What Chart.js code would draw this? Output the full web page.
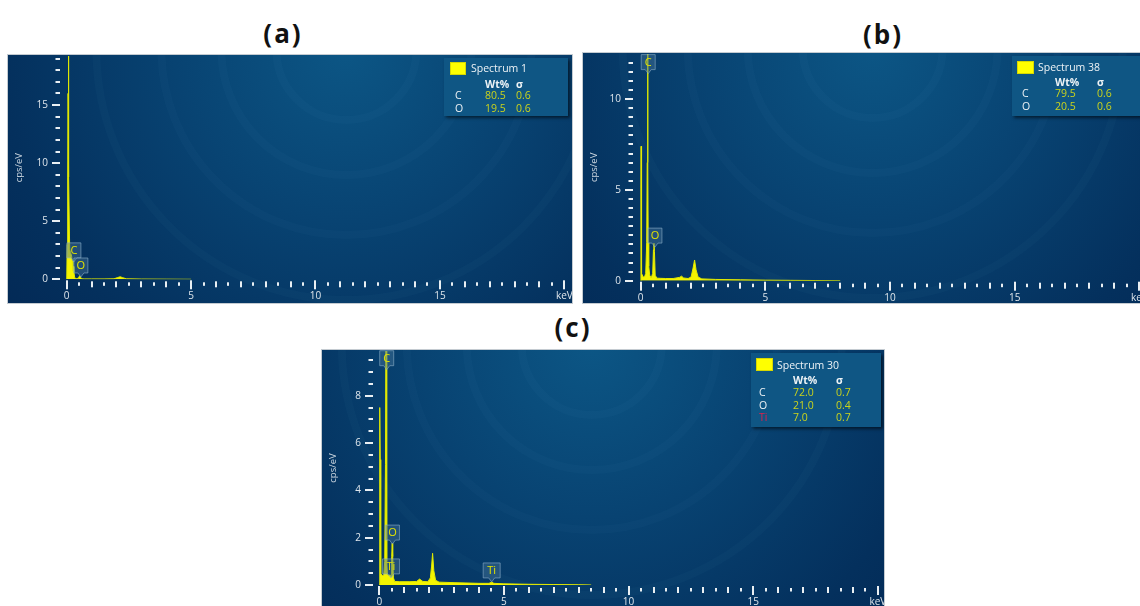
<!DOCTYPE html>
<html>
<head>
<meta charset="utf-8">
<script src="https://cdn.jsdelivr.net/npm/chart.js@4.4.1/dist/chart.umd.min.js"></script>
<style>
body { margin: 0; background: #fff; width: 1140px; height: 606px; overflow: hidden; position: relative; font-family: "Open Sans", sans-serif; }
.panel { position: absolute; overflow: hidden; box-shadow: 0 0 0 1px #c4cbd1; }
.panel canvas { display: block; }
.title { position: absolute; font-family: "Open Sans", sans-serif; font-weight: 700; font-size: 26px; color: #111; letter-spacing: 2px; transform: translate(-50%, -50%); white-space: nowrap; }
.legend { position: absolute; background: #0f5684; box-shadow: 2px 2px 3px rgba(0,0,0,0.55); color: #eef3f6; font-size: 10.5px; }
.legend span { position: absolute; line-height: 12px; white-space: nowrap; transform: translateY(-50%); }
.legend .sw { position: absolute; background: #ffff00; box-shadow: 0 0 0 1px #d8d800; }
.legend .hd { font-weight: 700; }
.legend .val { color: #cbd41c; }
.legend .ti { color: #e0204a; }
</style>
</head>
<body>

<div class="title" style="left:283px;top:33px">(a)</div>
<div class="title" style="left:883px;top:34px">(b)</div>
<div class="title" style="left:573px;top:327px">(c)</div>

<div class="panel" id="pa" style="left:8px;top:55px;width:564px;height:248px"><canvas id="chartA" width="564" height="248"></canvas></div>
<div class="panel" id="pb" style="left:583px;top:53px;width:557px;height:250px"><canvas id="chartB" width="557" height="250"></canvas></div>
<div class="panel" id="pc" style="left:322px;top:350px;width:562px;height:256px"><canvas id="chartC" width="562" height="256"></canvas></div>

<script>
// Spectrum (a)
const energyA = [0, 0.02, 0.04, 0.055, 0.065, 0.075, 0.09, 0.12, 0.15, 0.19, 0.22, 0.25, 0.27, 0.29, 0.32, 0.38, 0.47, 0.52, 0.55, 0.6, 0.7, 1.0, 1.5, 1.9, 2.05, 2.15, 2.25, 2.4, 3.0, 4.0, 5.0];
const countsA = [0, 3.0, 8.8, 16, 22, 16, 8.8, 2.6, 2.3, 2.1, 1.6, 0.7, 1.1, 0.6, 0.15, 0.05, 0.1, 0.3, 0.2, 0.04, 0.03, 0.03, 0.03, 0.04, 0.15, 0.22, 0.14, 0.04, 0.02, 0.01, 0];
const peakNamesA = ['C', 'O'];
const peakKeVA = [0.29, 0.57];
const peakCpsA = [1.5, 0.2];
const legendTitleA = 'Spectrum 1';
const elementsA = ['C', 'O'];
const wtA = ['80.5', '19.5'];
const sigmaA = ['0.6', '0.6'];

// Spectrum (b)
const energyB = [0, 0.005, 0.01, 0.015, 0.02, 0.03, 0.05, 0.1, 0.15, 0.2, 0.24, 0.26, 0.275, 0.29, 0.3, 0.32, 0.36, 0.42, 0.48, 0.51, 0.53, 0.55, 0.58, 0.65, 0.8, 1.0, 1.3, 1.55, 1.64, 1.72, 1.9, 2.02, 2.1, 2.16, 2.22, 2.3, 2.45, 3.0, 4.0, 5.0, 6.0, 7.0, 8.0];
const countsB = [0, 1.8, 5.1, 7.4, 5.1, 1.8, 0.4, 0.2, 0.2, 0.4, 2.1, 6.5, 14, 6.5, 2.1, 0.8, 0.3, 0.15, 0.4, 1.7, 2.06, 1.6, 0.3, 0.14, 0.13, 0.12, 0.12, 0.18, 0.25, 0.15, 0.12, 0.2, 0.7, 1.14, 0.6, 0.2, 0.1, 0.07, 0.05, 0.03, 0.02, 0.01, 0];
const peakNamesB = ['C', 'O'];
const peakKeVB = [0.3, 0.57];
const peakCpsB = [11.4, 1.85];
const legendTitleB = 'Spectrum 38';
const elementsB = ['C', 'O'];
const wtB = ['79.5', '20.5'];
const sigmaB = ['0.6', '0.6'];

// Spectrum (c)
const energyC = [0, 0.01, 0.02, 0.03, 0.04, 0.05, 0.07, 0.12, 0.18, 0.22, 0.25, 0.275, 0.29, 0.31, 0.33, 0.36, 0.4, 0.45, 0.48, 0.5, 0.52, 0.54, 0.57, 0.62, 0.8, 1.2, 1.5, 1.62, 1.68, 1.75, 1.95, 2.05, 2.1, 2.14, 2.19, 2.26, 2.4, 3.0, 4.0, 4.4, 4.51, 4.6, 5.0, 6.0, 7.0, 8.0, 8.5];
const countsC = [0, 1.8, 5.3, 7.5, 5.3, 1.8, 0.5, 0.4, 0.4, 1.0, 5.1, 12, 5.1, 1.0, 0.45, 0.4, 0.42, 0.42, 0.35, 1.2, 1.76, 1.2, 0.3, 0.15, 0.14, 0.14, 0.15, 0.25, 0.2, 0.15, 0.14, 0.3, 0.8, 1.34, 0.6, 0.2, 0.12, 0.1, 0.07, 0.07, 0.12, 0.07, 0.05, 0.03, 0.02, 0.01, 0];
const peakNamesC = ['C', 'O', 'Ti', 'Ti'];
const peakKeVC = [0.3, 0.53, 0.47, 4.51];
const peakCpsC = [9.1, 1.73, 0.3, 0.13];
const legendTitleC = 'Spectrum 30';
const elementsC = ['C', 'O', 'Ti'];
const wtC = ['72.0', '21.0', '7.0'];
const sigmaC = ['0.7', '0.4', '0.7'];

const TEXT = '#dfe6ec';
const FONT = 'Open Sans';

function isMultiple(v, step) {
    return Math.abs(v / step - Math.round(v / step)) < 1e-6;
}

function backgroundPlugin(cxFrac, rings) {
    return {
        id: 'edsBackground',
        beforeDraw(chart) {
            const { ctx, width, height } = chart;
            const cx = width * cxFrac, cy = -5;
            const g = ctx.createRadialGradient(cx, cy, 0, cx, cy, Math.hypot(width * 0.75, height));
            g.addColorStop(0, '#0c5685');
            g.addColorStop(0.35, '#084372');
            g.addColorStop(0.7, '#04305d');
            g.addColorStop(1, '#022551');
            ctx.save();
            ctx.fillStyle = g;
            ctx.fillRect(0, 0, width, height);
            // faint concentric rings of the detector backdrop
            ctx.lineWidth = 8;
            ctx.strokeStyle = 'rgba(120,180,220,0.03)';
            rings.forEach(r => {
                ctx.beginPath();
                ctx.arc(cx, cy, r, 0, Math.PI * 2);
                ctx.stroke();
            });
            ctx.restore();
        }
    };
}

function tickPlugin(majorY) {
    return {
        id: 'tickMarks',
        afterDraw(chart) {
            const { ctx, chartArea, scales: { x, y } } = chart;
            ctx.save();
            ctx.fillStyle = '#e9eff3';
            y.ticks.forEach(t => {
                const py = Math.round(y.getPixelForValue(t.value));
                const len = isMultiple(t.value, majorY) ? 8 : 4.5;
                ctx.fillRect(chartArea.left - 1 - len, py - 1, len, 2);
            });
            x.ticks.forEach(t => {
                if (t.value < 0) return;
                const px = Math.round(x.getPixelForValue(t.value));
                let off = 3, len = 3.5;
                if (isMultiple(t.value, 5)) { off = 1; len = 9; }
                else if (isMultiple(t.value, 1)) { off = 2; len = 6; }
                ctx.fillRect(px - 1, chartArea.bottom + off, 2, len);
            });
            ctx.restore();
        }
    };
}

function peakLabelPlugin(names, keV, cps) {
    return {
        id: 'peakLabels',
        afterDatasetsDraw(chart) {
            const { ctx, scales: { x, y } } = chart;
            ctx.save();
            names.forEach((name, i) => {
                const px = x.getPixelForValue(keV[i]);
                const tip = y.getPixelForValue(cps[i]);
                const w = name.length > 1 ? 17 : 14, h = 15;
                const bottom = tip - 4, top = bottom - h;
                ctx.beginPath();
                ctx.moveTo(px - w / 2, top);
                ctx.lineTo(px + w / 2, top);
                ctx.lineTo(px + w / 2, bottom);
                ctx.lineTo(px + 3, bottom);
                ctx.lineTo(px, tip);
                ctx.lineTo(px - 3, bottom);
                ctx.lineTo(px - w / 2, bottom);
                ctx.closePath();
                ctx.fillStyle = 'rgba(70,115,150,0.45)';
                ctx.fill();
                ctx.lineWidth = 1;
                ctx.strokeStyle = 'rgba(140,175,200,0.6)';
                ctx.stroke();
                ctx.fillStyle = '#e4e400';
                ctx.font = '11px "' + FONT + '"';
                ctx.textAlign = 'center';
                ctx.textBaseline = 'middle';
                ctx.fillText(name, px, top + h / 2 + 0.5);
            });
            ctx.restore();
        }
    };
}

function createSpectrum(canvasId, energy, counts, cfg) {
    const ctx = document.getElementById(canvasId).getContext('2d');
    return new Chart(ctx, {
        type: 'line',
        data: {
            datasets: [{
                data: energy.map((e, i) => ({ x: e, y: counts[i] })),
                borderColor: '#e2ea00',
                backgroundColor: '#f4f400',
                borderWidth: 1,
                fill: 'origin',
                pointRadius: 0,
                tension: 0
            }]
        },
        options: {
            responsive: false,
            animation: false,
            devicePixelRatio: 1,
            layout: { padding: { top: 1, right: cfg.padRight, bottom: 0, left: 0 } },
            plugins: { legend: { display: false }, tooltip: { enabled: false } },
            scales: {
                x: {
                    type: 'linear',
                    min: cfg.xMin,
                    max: 20,
                    grid: { display: false, drawTicks: false },
                    border: { display: false },
                    ticks: {
                        stepSize: 0.5,
                        autoSkip: false,
                        maxRotation: 0,
                        minRotation: 0,
                        includeBounds: false,
                        padding: cfg.xLabelPad,
                        color: TEXT,
                        font: { family: FONT, size: 10 },
                        callback: v => (isMultiple(v, 20) && v > 0) ? 'keV' : (v >= 0 && isMultiple(v, 5) ? String(v) : '')
                    },
                    afterFit: s => { s.height = cfg.xHeight; s.paddingLeft = 0; s.paddingRight = 0; }
                },
                y: {
                    min: 0,
                    max: cfg.yMax,
                    grid: { display: false, drawTicks: false },
                    border: { display: false },
                    ticks: {
                        stepSize: cfg.yStep,
                        autoSkip: false,
                        includeBounds: false,
                        padding: 13,
                        color: TEXT,
                        font: { family: FONT, size: 10 },
                        callback: v => isMultiple(v, cfg.yMajor) ? String(v) : ''
                    },
                    title: {
                        display: true,
                        text: 'cps/eV',
                        color: '#cfd9e2',
                        font: { family: FONT, size: 9.5 },
                        padding: { top: cfg.titlePad, bottom: 0 }
                    },
                    afterFit: s => { s.width = cfg.yWidth; s.paddingTop = 0; s.paddingBottom = 0; }
                }
            }
        },
        plugins: [backgroundPlugin(cfg.cx, cfg.rings), tickPlugin(cfg.yMajor), peakLabelPlugin(cfg.names, cfg.keV, cfg.cps)]
    });
}

function addLegend(panelId, title, elements, wt, sigma, geo) {
    const box = document.createElement('div');
    box.className = 'legend';
    box.style.cssText = `left:${geo.left}px;top:${geo.top}px;width:${geo.w}px;height:${geo.h}px`;
    let html = `<div class="sw" style="left:${geo.sw[0]}px;top:${geo.sw[1]}px;width:${geo.sw[2]}px;height:${geo.sw[3]}px"></div>`;
    html += `<span style="left:${geo.textX}px;top:${geo.rows[0]}px">${title}</span>`;
    html += `<span class="hd" style="left:${geo.cols[1]}px;top:${geo.rows[1]}px">Wt%</span>`;
    html += `<span class="hd" style="left:${geo.cols[2]}px;top:${geo.rows[1]}px">σ</span>`;
    elements.forEach((el, i) => {
        const ry = geo.rows[2] + i * geo.rowStep;
        html += `<span class="${el === 'Ti' ? 'ti' : ''}" style="left:${geo.cols[0]}px;top:${ry}px">${el}</span>`;
        html += `<span class="val" style="left:${geo.cols[1]}px;top:${ry}px">${wt[i]}</span>`;
        html += `<span class="val" style="left:${geo.cols[2]}px;top:${ry}px">${sigma[i]}</span>`;
    });
    box.innerHTML = html;
    document.getElementById(panelId).appendChild(box);
}

createSpectrum('chartA', energyA, countsA, {
    xMin: -0.229, yMax: 19.22, yStep: 1, yMajor: 5, padRight: 7.7, xHeight: 23.7, yWidth: 53,
    xLabelPad: 11, titlePad: 6, cx: 0.6, rings: [70, 125, 185, 250],
    names: peakNamesA, keV: peakKeVA, cps: peakCpsA
});
createSpectrum('chartB', energyB, countsB, {
    xMin: -0.27, yMax: 12.48, yStep: 0.5, yMajor: 5, padRight: 0.7, xHeight: 22.3, yWidth: 51,
    xLabelPad: 11, titlePad: 6, cx: 0.52, rings: [70, 125, 185, 250],
    names: peakNamesB, keV: peakKeVB, cps: peakCpsB
});
createSpectrum('chartC', energyC, countsC, {
    xMin: -0.21, yMax: 9.89, yStep: 0.5, yMajor: 2, padRight: 6.1, xHeight: 21, yWidth: 52,
    xLabelPad: 11, titlePad: 6, cx: 0.48, rings: [70, 125, 185, 250],
    names: peakNamesC, keV: peakKeVC, cps: peakCpsC
});

addLegend('pa', legendTitleA, elementsA, wtA, sigmaA, {
    left: 436, top: 3, w: 124, h: 58, sw: [7, 5, 14, 10.5], textX: 27,
    rows: [9.5, 25.5, 36.5], rowStep: 13, cols: [11, 41, 72]
});
addLegend('pb', legendTitleB, elementsB, wtB, sigmaB, {
    left: 429, top: 3, w: 150, h: 60, sw: [6, 6, 15, 11], textX: 26,
    rows: [11.3, 25.7, 37.3], rowStep: 12.4, cols: [10, 43, 85]
});
addLegend('pc', legendTitleC, elementsC, wtC, sigmaC, {
    left: 429, top: 3, w: 130, h: 74, sw: [6, 6, 15, 11], textX: 26,
    rows: [12, 27, 39.3], rowStep: 12.5, cols: [8, 42, 85]
});
</script>
</body>
</html>
